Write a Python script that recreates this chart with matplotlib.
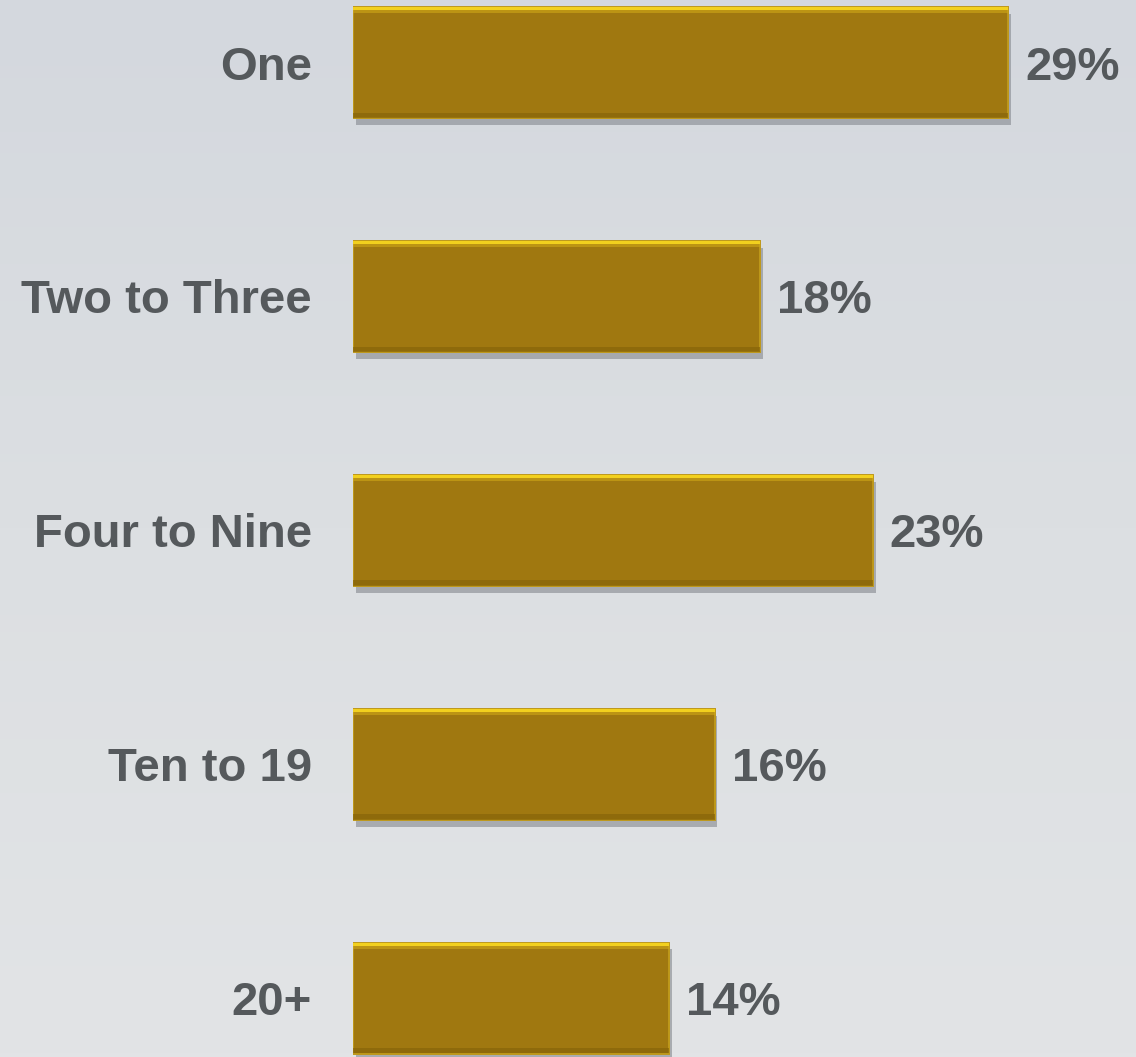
import matplotlib
matplotlib.use("Agg")
import matplotlib.pyplot as plt
import matplotlib.patheffects as pe
import numpy as np
from matplotlib.colors import LinearSegmentedColormap

categorias = ["One", "Two to Three", "Four to Nine", "Ten to 19", "20+"]
percentuais = [29, 18, 23, 16, 14]
rotulos = [f"{p}%" for p in percentuais]

COR_BARRA = "#A07810"
COR_BRILHO = "#F2D01E"
COR_SOMBRA_BASE = "#876509"
COR_TEXTO = "#55595C"

plt.rcParams["font.family"] = ["Liberation Sans", "DejaVu Sans"]

W, H = 1136, 1057
fig = plt.figure(figsize=(W / 100, H / 100), dpi=100)

# fundo em degradê cinza claro
bg = fig.add_axes([0, 0, 1, 1], zorder=-10)
grad = np.linspace(0, 1, 256).reshape(-1, 1)
cmap_bg = LinearSegmentedColormap.from_list("bg", ["#D4D8DE", "#DCDFE2", "#E2E4E6"])
bg.imshow(grad, aspect="auto", cmap=cmap_bg, extent=[0, 1, 0, 1], origin="upper")
bg.axis("off")

x0 = 353
px_por_pct = 22.6
passo = 233.9
centro0 = 62.5

ax = fig.add_axes([x0 / W, 0, 1 - x0 / W, 1])
ax.patch.set_alpha(0)
ax.set_xlim(0, (W - x0) / px_por_pct)
ax.set_ylim(4 + (H - (centro0 + 4 * passo)) / passo, -centro0 / passo)

y = np.arange(len(categorias))
altura = 0.475

barras = ax.barh(y, percentuais, height=altura, color=COR_BARRA,
                 edgecolor="#BE981A", linewidth=1.4, zorder=2)
for b in barras:
    b.set_path_effects([pe.SimplePatchShadow(offset=(2, -5), shadow_rgbFace="#84888E",
                                             alpha=0.6), pe.Normal()])

# realce superior e escurecimento inferior (efeito de chanfro)
ax.barh(y - altura / 2 + 0.007, percentuais, height=0.014, color=COR_BRILHO,
        linewidth=0, zorder=3)
ax.barh(y - altura / 2 + 0.021, percentuais, height=0.014, color="#D0A818",
        alpha=0.6, linewidth=0, zorder=3)
ax.barh(y + altura / 2 - 0.012, percentuais, height=0.022, color=COR_SOMBRA_BASE,
        alpha=0.7, linewidth=0, zorder=3)

for yi, v, r in zip(y, percentuais, rotulos):
    ax.annotate(r, (v, yi), xytext=(17, 0), textcoords="offset pixels",
                ha="left", va="center_baseline", fontsize=34, fontweight="bold",
                color=COR_TEXTO)

ax.set_yticks(y)
ax.set_yticklabels(categorias, fontsize=34, fontweight="bold", color=COR_TEXTO)
ax.tick_params(axis="y", length=0, pad=29.5)
ax.set_xticks([])
for s in ax.spines.values():
    s.set_visible(False)

fig.savefig("out.png", dpi=100)
